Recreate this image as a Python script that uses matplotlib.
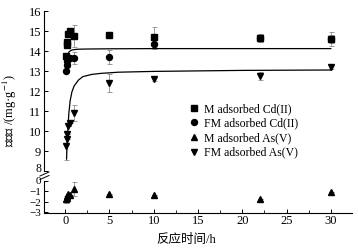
import matplotlib.pyplot as plt
from matplotlib.transforms import ScaledTranslation

plt.rcParams['font.family'] = ['Liberation Serif', 'Noto Sans CJK SC']
plt.rcParams['mathtext.fontset'] = 'stix'
plt.rcParams['xtick.direction'] = 'in'
plt.rcParams['ytick.direction'] = 'in'

# --- data ---
t = [0.083, 0.167, 0.25, 0.33, 0.5, 1, 5, 10, 22, 30]

m_cd = [13.75, 14.3, 14.45, 14.85, 15.0, 14.75, 14.8, 14.7, 14.65, 14.6]
m_cd_err = [0, 0, 0, 0, 0, 0.55, 0.1, 0.5, 0.2, 0.2]

fm_cd = [13.0, 13.3, 13.5, 13.65, 13.65, 13.65, 13.7, 14.35, 14.65, 14.6]
fm_cd_err = [0, 0, 0, 0, 0, 0.3, 0.35, 0.25, 0.2, 0.35]

fm_as = [9.25, 9.6, 9.85, 10.25, 10.4, 10.9, 12.4, 12.6, 12.75, 13.2]
fm_as_err = [0.7, 0, 0, 0, 0, 0.4, 0.45, 0.1, 0.2, 0.1]

m_as = [-1.75, -1.6, -1.45, -1.25, -1.35, -0.75, -1.25, -1.35, -1.75, -1.05]
m_as_err = [0.35, 0, 0, 0, 0, 0.7, 0, 0, 0, 0]

# fitted curves, points
cd_fit_t = [0.15, 0.2, 0.3, 0.45, 0.7, 1.0, 1.5, 2.5, 5, 10, 20, 30]
cd_fit_q = [13.45, 13.65, 13.85, 13.97, 14.04, 14.07, 14.09, 14.1, 14.11, 14.12, 14.12, 14.12]

as_fit_t = [0.15, 0.2, 0.3, 0.4, 0.55, 0.75, 1.0, 1.5, 2.0, 3.0, 4.0, 6.0, 10, 20, 30]
as_fit_q = [8.6, 9.2, 10.1, 10.85, 11.5, 11.95, 12.25, 12.55, 12.72, 12.83, 12.88, 12.94, 12.98, 13.03, 13.05]

labels = ["M adsorbed Cd(II)", "FM adsorbed Cd(II)", "M adsorbed As(V)", "FM adsorbed As(V)"]

W, H = 358, 249
fig = plt.figure(figsize=(W / 100, H / 100), dpi=100)

left, right = 44 / W, 352 / W
ax_top = fig.add_axes([left, 1 - 171 / H, right - left, (171 - 11) / H])
ax_bot = fig.add_axes([left, 1 - 212.5 / H, right - left, (212.5 - 181) / H])

eb = dict(fmt='none', ecolor='0.55', elinewidth=0.6, capsize=1.8, capthick=0.6)
ms = 4.3

ax_top.errorbar(t, m_cd, yerr=m_cd_err, **eb)
ax_top.errorbar(t, fm_cd, yerr=fm_cd_err, **eb)
ax_top.errorbar(t, fm_as, yerr=fm_as_err, **eb)
ax_bot.errorbar(t, m_as, yerr=m_as_err, **eb)

ax_top.plot(cd_fit_t, cd_fit_q, color='black', lw=0.9)
ax_top.plot(as_fit_t, as_fit_q, color='black', lw=0.9)

h1, = ax_top.plot(t, m_cd, 's', color='black', ms=ms, label=labels[0])
h2, = ax_top.plot(t, fm_cd, 'o', color='black', ms=ms, label=labels[1])
h4, = ax_top.plot(t, fm_as, 'v', color='black', ms=ms + 0.6, label=labels[3])
h3, = ax_bot.plot(t, m_as, '^', color='black', ms=ms + 0.6, label=labels[2])

for ax in (ax_top, ax_bot):
    ax.set_xlim(-2.4, 32.4)
    ax.spines['top'].set_visible(False)
    ax.spines['right'].set_visible(False)
    ax.tick_params(labelsize=9, length=3, width=0.7, pad=2)
    ax.patch.set_visible(False)

ax_top.set_ylim(8, 16)
ax_top.set_yticks(range(8, 17))
ax_top.spines['bottom'].set_visible(False)
ax_top.tick_params(axis='x', bottom=False, labelbottom=False)

ax_bot.set_ylim(-3, 0)
ax_bot.set_yticks([0, -1, -2, -3])
ax_bot.set_yticklabels(['0', '−1', '−2', '−3'])
ax_bot.tick_params(axis='y', labelsize=8)
ax_bot.set_xticks([0, 5, 10, 15, 20, 25, 30])
ax_bot.set_xticks([2.5, 7.5, 12.5, 17.5, 22.5, 27.5], minor=True)
ax_bot.tick_params(axis='x', which='minor', length=2, width=0.6)

# nudge the "8" label up, away from the "0" below the break
lab8 = ax_top.get_yticklabels()[0]
lab8.set_fontsize(8.5)
lab8.set_transform(lab8.get_transform() + ScaledTranslation(0, 2.5 / 72, fig.dpi_scale_trans))

# break marks on the y axis
for dy in (0, 3.5):
    fig.add_artist(plt.Line2D([40 / W, 49 / W], [1 - (176 + dy) / H, 1 - (172 + dy) / H],
                              color='black', lw=0.7))

fig.legend([h1, h2, h3, h4], labels, loc='upper left',
           bbox_to_anchor=(189 / W, 1 - 103 / H), frameon=False,
           fontsize=8.5, handlelength=0.8, handletextpad=0.5,
           labelspacing=0.22, borderpad=0, borderaxespad=0)

fig.text(10 / W, 1 - 111 / H, '吸附量 /(mg·g$^{-1}$)', rotation=90,
         ha='center', va='center', fontsize=9)
fig.text(186 / W, 1 - 240 / H, '反应时间/h', ha='center', va='center', fontsize=9)

fig.savefig('out.png', dpi=100)
